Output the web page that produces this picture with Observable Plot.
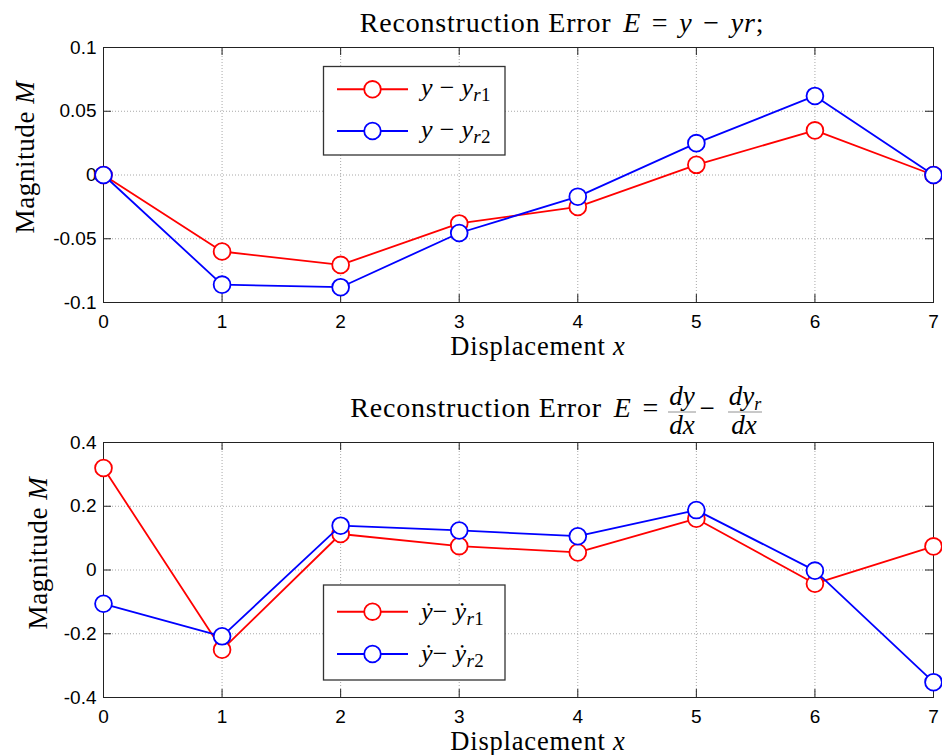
<!DOCTYPE html>
<html><head><meta charset="utf-8">
<script src="https://cdn.jsdelivr.net/npm/d3@7"></script>
<script src="https://cdn.jsdelivr.net/npm/@observablehq/plot@0.6"></script>
<style>
body{margin:0;background:#fff;}
#chart{width:942px;}
#chart svg{display:block;}
</style></head><body><div id="chart"></div>
<script>
// ---- data ----
const xValues = [0, 1, 2, 3, 4, 5, 6, 7];
const errY1 = [0, -0.060, -0.0705, -0.038, -0.025, 0.008, 0.035, 0];
const errY2 = [0, -0.086, -0.088, -0.0455, -0.017, 0.025, 0.062, 0];
const errD1 = [0.32, -0.25, 0.113, 0.075, 0.055, 0.161, -0.043, 0.074];
const errD2 = [-0.106, -0.208, 0.139, 0.124, 0.106, 0.188, -0.002, -0.352];
const xTicks = [0, 1, 2, 3, 4, 5, 6, 7];
const yTicksTop = [-0.1, -0.05, 0, 0.05, 0.1];
const yLabelsTop = ["-0.1", "-0.05", "0", "0.05", "0.1"];
const yTicksBottom = [-0.4, -0.2, 0, 0.2, 0.4];
const yLabelsBottom = ["-0.4", "-0.2", "0", "0.2", "0.4"];
const seriesColors = ["#ff0000", "#0000ff"];

const W = 942, ML = 103, MR = 9;
const plotW = W - ML - MR;
const root = document.getElementById("chart");

function panel({height, marginTop, marginBottom, domain, yTicks, yLabels, s1, s2}) {
  const plotH = height - marginTop - marginBottom;
  const r1 = xValues.map((x, i) => ({x, v: s1[i]}));
  const r2 = xValues.map((x, i) => ({x, v: s2[i]}));
  const gridOpts = {stroke: "#a8a8a8", strokeOpacity: 1, strokeDasharray: "1,2", strokeWidth: 1};
  const tickOpts = {stroke: "#222", strokeWidth: 1};
  return Plot.plot({
    width: W, height, marginLeft: ML, marginRight: MR, marginTop, marginBottom,
    x: {domain: [0, 7], label: null},
    y: {domain, label: null},
    style: {fontFamily: "'Liberation Sans', Arial, sans-serif", fontSize: "19px", background: "white", overflow: "visible", color: "#000"},
    marks: [
      Plot.gridX(xTicks.slice(1, -1), gridOpts),
      Plot.gridY(yTicks.slice(1, -1), gridOpts),
      Plot.tickX(xTicks, {x: d => d, insetTop: plotH - 8, ...tickOpts}),
      Plot.tickX(xTicks, {x: d => d, insetBottom: plotH - 8, ...tickOpts}),
      Plot.tickY(yTicks, {y: d => d, insetRight: plotW - 8, ...tickOpts}),
      Plot.tickY(yTicks, {y: d => d, insetLeft: plotW - 8, ...tickOpts}),
      Plot.frame({stroke: "#222", strokeWidth: 1}),
      Plot.axisX(xTicks, {anchor: "bottom", tickSize: 0, tickPadding: 12, tickFormat: d => String(d), label: null}),
      Plot.axisY(yTicks, {anchor: "left", tickSize: 0, tickPadding: 7, tickFormat: d => yLabels[yTicks.indexOf(d)], label: null}),
      Plot.line(r1, {x: "x", y: "v", stroke: seriesColors[0], strokeWidth: 1.8}),
      Plot.dot(r1, {x: "x", y: "v", r: 8.4, fill: "white", stroke: seriesColors[0], strokeWidth: 1.8}),
      Plot.line(r2, {x: "x", y: "v", stroke: seriesColors[1], strokeWidth: 1.8}),
      Plot.dot(r2, {x: "x", y: "v", r: 8.4, fill: "white", stroke: seriesColors[1], strokeWidth: 1.8})
    ]
  });
}

function addText(svg, x, y, parts, opts = {}) {
  const t = svg.append("text").attr("x", x).attr("y", y)
    .attr("font-family", "'Liberation Serif', 'Times New Roman', serif")
    .attr("font-size", opts.size || 27)
    .attr("letter-spacing", opts.ls != null ? opts.ls : 0.6)
    .attr("text-anchor", opts.anchor || "middle")
    .attr("fill", "#000")
    .style("white-space", "pre");
  if (opts.rotate) t.attr("transform", `rotate(-90 ${x} ${y})`);
  for (const p of parts) {
    const s = t.append("tspan").text(p.t);
    if (p.i) s.attr("font-style", "italic");
    if (p.dx != null) s.attr("dx", p.dx);
    if (p.dy != null) s.attr("dy", p.dy);
    if (p.size) s.attr("font-size", p.size);
  }
  return t;
}

function legend(svg, box, rows) {
  const g = svg.append("g");
  g.append("rect").attr("x", box.x).attr("y", box.y).attr("width", box.w).attr("height", box.h)
    .attr("fill", "white").attr("stroke", "#333").attr("stroke-width", 1.3);
  rows.forEach((row, i) => {
    const y = row.y;
    g.append("line").attr("x1", 337).attr("x2", 408).attr("y1", y).attr("y2", y)
      .attr("stroke", seriesColors[i]).attr("stroke-width", 2);
    g.append("circle").attr("cx", 372.5).attr("cy", y).attr("r", 8.3)
      .attr("fill", "white").attr("stroke", seriesColors[i]).attr("stroke-width", 1.8);
    addText(g, 421, y + row.base, row.parts, {anchor: "start", size: 26, ls: 0.3});
  });
}

// ---- top panel ----
const topChart = panel({height: 377, marginTop: 47, marginBottom: 75, domain: [-0.1, 0.1],
  yTicks: yTicksTop, yLabels: yLabelsTop, s1: errY1, s2: errY2});
root.appendChild(topChart);
{
  const svg = d3.select(topChart);
  addText(svg, 562, 32, [
    {t: "Reconstruction Error "}, {t: "E", i: true, dx: 4}, {t: " = ", dx: 3}, {t: "y", i: true, dx: 3},
    {t: " − ", dx: 3}, {t: "yr", i: true, dx: 3}, {t: ";"}], {size: 28, ls: 0.8});
  addText(svg, 538, 355, [{t: "Displacement "}, {t: "x", i: true}], {size: 26.5, ls: 0.8});
  addText(svg, 34, 157, [{t: "Magnitude "}, {t: "M", i: true}], {rotate: true});
  legend(svg, {x: 323.5, y: 66.5, w: 181.5, h: 88.5}, [
    {y: 89.3, base: 7, parts: [{t: "y", i: true}, {t: " − "}, {t: "y", i: true}, {t: "r", i: true, size: 19, dy: 5}, {t: "1", size: 19}]},
    {y: 131, base: 7, parts: [{t: "y", i: true}, {t: " − "}, {t: "y", i: true}, {t: "r", i: true, size: 19, dy: 5}, {t: "2", size: 19}]}
  ]);
}

// ---- bottom panel ----
const bottomChart = panel({height: 378, marginTop: 65, marginBottom: 58, domain: [-0.4, 0.4],
  yTicks: yTicksBottom, yLabels: yLabelsBottom, s1: errD1, s2: errD2});
root.appendChild(bottomChart);
{
  const svg = d3.select(bottomChart);
  addText(svg, 659, 40, [{t: "Reconstruction Error "}, {t: "E", i: true, dx: 4}, {t: " =", dx: 3}], {anchor: "end", size: 28, ls: 0.8});
  addText(svg, 682, 28, [{t: "dy", i: true}], {ls: 0});
  addText(svg, 682, 57, [{t: "dx", i: true}], {ls: 0});
  svg.append("line").attr("x1", 668).attr("x2", 696).attr("y1", 35).attr("y2", 35).attr("stroke", "#777").attr("stroke-width", 0.8);
  addText(svg, 707, 40, [{t: "−"}], {ls: 0});
  addText(svg, 745, 28, [{t: "dy", i: true}, {t: "r", i: true, size: 18, dy: 5}], {ls: 0});
  addText(svg, 744, 57, [{t: "dx", i: true}], {ls: 0});
  svg.append("line").attr("x1", 728).attr("x2", 762).attr("y1", 35).attr("y2", 35).attr("stroke", "#777").attr("stroke-width", 0.8);
  addText(svg, 538, 373, [{t: "Displacement "}, {t: "x", i: true}], {size: 26.5, ls: 0.8});
  addText(svg, 47, 176, [{t: "Magnitude "}, {t: "M", i: true}], {rotate: true});
  const dotY = (n) => [{t: "ẏ", i: true}, {t: "− "}, {t: "ẏ", i: true},
    {t: "r", i: true, size: 19, dy: 5}, {t: n, size: 19}];
  legend(svg, {x: 323.5, y: 208, w: 181.5, h: 95}, [
    {y: 234.7, base: 8, parts: dotY("1")},
    {y: 277, base: 8, parts: dotY("2")}
  ]);
}
</script>
</body></html>
